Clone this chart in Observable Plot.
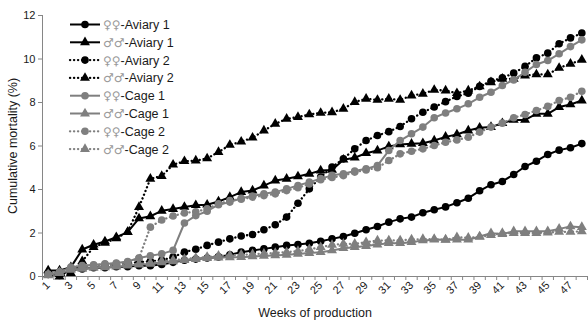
<!DOCTYPE html>
<html>
<head>
<meta charset="utf-8">
<script src="https://cdn.jsdelivr.net/npm/d3@7"></script>
<script src="https://cdn.jsdelivr.net/npm/@observablehq/plot@0.6"></script>
<style>
  body { margin: 0; background: #fff; font-family: "Liberation Sans", Arial, sans-serif; }
  #wrap { position: relative; width: 588px; height: 320px; overflow: hidden; }
  #legend { position: absolute; left: 0; top: 0; pointer-events: none; }
</style>
</head>
<body>
<div id="wrap"><div id="chart"></div><svg id="legend" width="588" height="320"></svg></div>
<script>
// ---- categories ----
const weeks = [1,2,3,4,5,6,7,8,9,10,11,12,13,14,15,16,17,18,19,20,21,22,23,24,
               25,26,27,28,29,30,31,32,33,34,35,36,37,38,39,40,41,42,43,44,45,46,47,48];
const weekTickLabels = [1,3,5,7,9,11,13,15,17,19,21,23,25,27,29,31,33,35,37,39,41,43,45,47];
const yTickValues = [0,2,4,6,8,10,12];

// ---- series values (cumulative mortality, %) ----
const femAviary1 = [0.15,0.05,0.30,0.35,0.40,0.40,0.45,0.45,0.50,0.50,0.55,0.65,0.75,0.80,0.85,0.90,
  1.00,1.12,1.20,1.27,1.35,1.43,1.47,1.53,1.62,1.73,1.84,1.99,2.15,2.30,2.50,2.65,
  2.73,2.93,3.07,3.20,3.39,3.60,3.94,4.22,4.37,4.69,5.06,5.30,5.61,5.81,5.92,6.11];
const maleAviary1 = [0.28,0.28,0.43,1.24,1.46,1.61,1.81,2.04,2.67,2.77,3.02,3.10,3.20,3.28,3.30,3.45,
  3.65,3.88,3.95,4.18,4.41,4.49,4.60,4.72,4.87,4.90,5.37,5.46,5.67,5.79,5.98,6.07,
  6.10,6.13,6.25,6.42,6.53,6.71,6.84,6.87,7.05,7.20,7.20,7.48,7.48,7.79,7.91,8.09];
const femAviary2 = [0.10,0.10,0.30,0.40,0.45,0.50,0.55,0.60,0.65,0.70,0.75,0.89,1.12,1.25,1.43,1.58,
  1.73,1.86,1.93,2.15,2.38,2.73,3.37,4.03,4.57,5.03,5.41,5.87,6.25,6.48,6.66,6.90,
  7.25,7.55,7.79,8.04,8.28,8.43,8.74,8.98,9.13,9.35,9.66,10.05,10.27,10.70,10.97,11.19];
const maleAviary2 = [0.10,0.00,0.15,0.70,1.35,1.55,1.75,2.05,3.19,4.49,4.62,5.14,5.30,5.33,5.43,5.72,
  6.05,6.20,6.38,6.71,7.02,7.25,7.33,7.45,7.52,7.55,7.71,8.02,8.17,8.12,8.17,8.12,
  8.32,8.40,8.58,8.55,8.43,8.55,8.74,8.93,9.09,9.09,9.24,9.29,9.29,9.59,9.78,9.96];
const femCage1 = [0.10,0.20,0.43,0.50,0.54,0.58,0.62,0.69,0.85,0.95,1.04,1.20,2.46,2.80,3.00,3.30,
  3.42,3.60,3.70,3.80,3.88,4.03,4.18,4.34,4.50,4.65,4.72,4.85,4.95,5.10,5.79,6.25,
  6.56,6.87,7.30,7.52,7.71,7.94,8.24,8.47,8.78,9.04,9.39,9.75,9.93,10.24,10.57,10.88];
const maleCage1 = [0.10,0.15,0.30,0.35,0.40,0.42,0.45,0.50,0.55,0.58,0.65,0.70,0.75,0.80,0.85,0.87,
  0.88,0.89,0.92,0.95,0.97,1.00,1.04,1.08,1.12,1.20,1.30,1.35,1.40,1.47,1.53,1.53,
  1.58,1.66,1.69,1.70,1.69,1.69,1.84,1.99,1.95,2.08,2.08,2.08,2.08,2.19,2.30,2.27];
const femCage2 = [0.10,0.20,0.40,0.48,0.52,0.56,0.60,0.65,0.85,2.27,2.60,2.78,2.92,2.98,3.11,3.34,
  3.49,3.55,3.65,3.72,3.80,3.95,4.08,4.25,4.45,4.55,4.64,4.80,4.90,5.00,5.33,5.64,
  5.76,5.87,6.02,6.17,6.28,6.40,6.64,6.87,7.05,7.30,7.45,7.63,7.82,8.09,8.24,8.52];
const maleCage2 = [0.05,0.20,0.35,0.40,0.45,0.50,0.50,0.55,0.58,0.62,0.70,0.75,0.80,0.85,0.90,0.95,
  0.97,1.00,1.02,1.05,1.08,1.12,1.17,1.25,1.35,1.45,1.50,1.50,1.58,1.65,1.66,1.66,
  1.70,1.72,1.72,1.68,1.80,1.78,1.82,1.90,2.00,2.00,2.00,2.00,2.02,2.05,2.05,2.08];

// ---- series names (legend order) ----
const seriesSymbols = ["♀♀","♂♂","♀♀","♂♂","♀♀","♂♂","♀♀","♂♂"];
const seriesGroups = ["-Aviary 1","-Aviary 1","-Aviary 2","-Aviary 2","-Cage 1","-Cage 1","-Cage 2","-Cage 2"];
const seriesValues = [femAviary1, maleAviary1, femAviary2, maleAviary2, femCage1, maleCage1, femCage2, maleCage2];

// ---- styles ----
const BLACK = "#000000", GREY = "#7f7f7f";
const DOT = "0.2,3.8";
const styles = [
  {color: BLACK, dash: null, symbol: "circle"},
  {color: BLACK, dash: null, symbol: "triangle"},
  {color: BLACK, dash: DOT, symbol: "circle"},
  {color: BLACK, dash: DOT, symbol: "triangle"},
  {color: GREY, dash: null, symbol: "circle"},
  {color: GREY, dash: null, symbol: "triangle"},
  {color: GREY, dash: DOT, symbol: "circle"},
  {color: GREY, dash: DOT, symbol: "triangle"}
];
const R_CIRCLE = 3.8, R_TRI = 3.7;

const series = seriesValues.map((vals, i) => ({
  name: seriesSymbols[i] + seriesGroups[i],
  style: styles[i],
  data: vals.map((v, j) => ({week: weeks[j], value: v}))
}));

const xDomain = [weeks[0] - 0.5, weeks[weeks.length - 1] + 0.5];
const bandEdges = weeks.map(w => w - 0.5).concat([xDomain[1]]);
const AXIS = "#868686";

const marks = [];
for (const s of series) {
  marks.push(Plot.line(s.data, {x: "week", y: "value", stroke: s.style.color,
    strokeWidth: s.style.dash ? 2.3 : 2,
    strokeDasharray: s.style.dash || undefined, strokeLinecap: s.style.dash ? "round" : "butt"}));
  marks.push(Plot.dot(s.data, {x: "week", y: "value", symbol: s.style.symbol,
    fill: s.style.color, stroke: "none", r: s.style.symbol === "circle" ? R_CIRCLE : R_TRI}));
}

const chart = Plot.plot({
  width: 588, height: 320,
  marginLeft: 42, marginRight: 1, marginTop: 15, marginBottom: 44,
  style: {fontFamily: "'Liberation Sans', Arial, sans-serif", fontSize: "11px", color: "#1a1a1a", background: "#fff"},
  x: {domain: xDomain},
  y: {domain: [yTickValues[0], yTickValues[yTickValues.length - 1]]},
  marks: [
    Plot.axisX({ticks: bandEdges, tickSize: 4, tickFormat: () => "", stroke: AXIS, label: null}),
    Plot.axisX({ticks: weekTickLabels, tickSize: 0, tickPadding: 7, tickRotate: -45, fontSize: 11,
      label: "Weeks of production", labelAnchor: "center", labelArrow: "none", labelOffset: 40}),
    Plot.axisY({ticks: yTickValues, tickSize: 4, tickPadding: 3, stroke: AXIS, fontSize: 11,
      label: "Cumulative mortality (%)", labelAnchor: "center", labelArrow: "none", labelOffset: 34}),
    Plot.ruleX([xDomain[0]], {stroke: AXIS}),
    Plot.ruleY([yTickValues[0]], {stroke: AXIS}),
    ...marks
  ]
});
d3.select(chart).selectAll("g[aria-label='x-axis label'] text, g[aria-label='y-axis label'] text")
  .style("font-size", "12.5px").attr("fill", "#1a1a1a");
document.getElementById("chart").appendChild(chart);

// ---- legend (inside plot, top-left) ----
const leg = d3.select("#legend");
const legX0 = 70, legX1 = 100, legTextX = 103, legY0 = 24.5, legDy = 17.8;
series.forEach((s, i) => {
  const y = legY0 + i * legDy;
  const g = leg.append("g");
  g.append("line").attr("x1", legX0).attr("x2", legX1).attr("y1", y).attr("y2", y)
    .attr("stroke", s.style.color).attr("stroke-width", s.style.dash ? 2.3 : 2)
    .attr("stroke-dasharray", s.style.dash).attr("stroke-linecap", s.style.dash ? "round" : "butt");
  const sym = s.style.symbol === "circle" ? d3.symbolCircle : d3.symbolTriangle;
  const r = s.style.symbol === "circle" ? R_CIRCLE : R_TRI;
  g.append("path").attr("d", d3.symbol(sym, Math.PI * r * r)())
    .attr("transform", `translate(${(legX0 + legX1) / 2},${y})`).attr("fill", s.style.color);
  const t = g.append("text").attr("x", legTextX).attr("y", y).attr("dy", "0.36em")
    .style("font-family", "'Liberation Sans', Arial, sans-serif").style("font-size", "12.5px");
  t.append("tspan").attr("fill", "#9a9a9a").style("font-family", "'DejaVu Sans', sans-serif")
    .style("font-size", "12px").text(seriesSymbols[i]);
  t.append("tspan").attr("fill", "#1a1a1a").text(seriesGroups[i]);
});
</script>
</body>
</html>
